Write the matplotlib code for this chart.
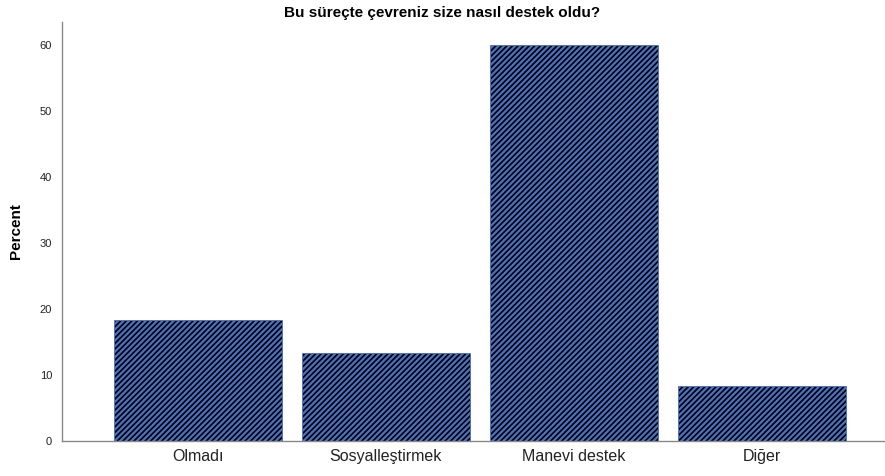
import matplotlib.pyplot as plt
import numpy as np

plt.rcParams['font.family'] = ['Liberation Sans', 'DejaVu Sans']
plt.rcParams['hatch.linewidth'] = 1.6

categories = ['Olmadı', 'Sosyalleştirmek', 'Manevi destek', 'Diğer']
percent = [18.33, 13.33, 60.0, 8.33]
yticks = [0, 10, 20, 30, 40, 50, 60]

fig = plt.figure(figsize=(8.85, 4.76), dpi=100)
ax = fig.add_axes([0.070, 0.0735, 0.930, 0.8805])

x = np.arange(len(categories))
ax.bar(x, percent, width=0.894, color='black', edgecolor='#4a72c4',
       hatch='//////', linewidth=0.5)

ax.set_xlim(-0.723, 3.654)
ax.set_ylim(0, 63.5)
ax.set_xticks(x)
ax.set_xticklabels(categories, fontsize=11.5, color='#222222')
ax.set_yticks(yticks)
ax.set_yticklabels([str(v) for v in yticks], fontsize=8, color='#222222')
ax.tick_params(axis='both', length=0)
ax.tick_params(axis='x', pad=6)
ax.tick_params(axis='y', pad=7)

for s in ['top', 'right']:
    ax.spines[s].set_visible(False)
for s in ['left', 'bottom']:
    ax.spines[s].set_color('#888888')
    ax.spines[s].set_linewidth(1.0)

ax.set_ylabel('Percent', fontsize=11, fontweight='bold', labelpad=12)
fig.text(0.5, 0.973, 'Bu süreçte çevreniz size nasıl destek oldu?',
         ha='center', va='center', fontsize=11, fontweight='bold')

fig.savefig('out.png', dpi=100)
